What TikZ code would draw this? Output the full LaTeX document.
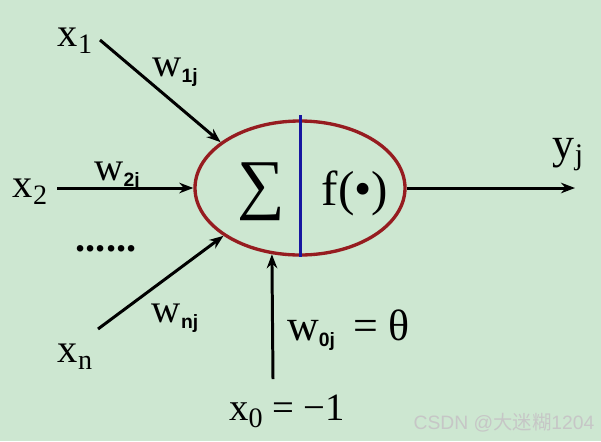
\documentclass[tikz,border=0pt]{standalone}
\usepackage{fontspec}
\setmainfont{Liberation Serif}
\setsansfont{Liberation Sans}
\newfontfamily\cjkfont{Noto Sans CJK SC}
\usetikzlibrary{shapes.geometric,arrows.meta}
\definecolor{bgmint}{RGB}{205,231,209}
\definecolor{cellred}{RGB}{150,28,32}
\definecolor{cellblue}{RGB}{22,22,160}
\newcommand{\xsub}[1]{x\raisebox{-0.4ex}{\fontsize{16}{16}\selectfont #1}}
\newcommand{\wsub}[1]{w\raisebox{-0.3ex}{\sffamily\bfseries\fontsize{11}{11}\selectfont #1}}

\begin{document}
\begin{tikzpicture}[
    lbl/.style={inner sep=0pt,font=\fontsize{23}{26}\selectfont},
    wire/.style={line width=1.7pt,-{Stealth[length=8pt,width=6pt]}}]
    \fill[bgmint] (0,0) rectangle (12.02,8.82);
    \useasboundingbox (0,0) rectangle (12.02,8.82);
    \node[ellipse,draw=cellred,line width=1.9pt,minimum width=4.2cm,minimum height=2.68cm,inner sep=0pt] (neuron) at (6.0,5.06) {};
    \draw[cellblue,line width=1.7pt] ([yshift=2.3pt]neuron.north) -- (neuron.south);
    \node[inner sep=0pt,font=\fontsize{38}{40}\selectfont] (sum) at (5.22,4.98) {∑};
    \node[inner sep=0pt,font=\fontsize{28}{32}\selectfont] (act) at (7.1,4.96) {f(•)};
    \coordinate (x1end) at (2.0,8.02);
    \coordinate (x2end) at (1.14,5.06);
    \coordinate (xnend) at (1.96,2.24);
    \coordinate (x0end) at (5.46,1.24);
    \coordinate (yend) at (11.5,5.06);
    \draw[wire] (x1end) -- (neuron.150);
    \draw[wire] (x2end) -- (neuron.west);
    \draw[wire] (xnend) -- (neuron.212);
    \draw[wire] (x0end) -- (neuron.247);
    \draw[wire] (neuron.east) -- (yend);
    \node[lbl] (x1) at (1.5,8.0) {\xsub{1}};
    \node[lbl] (x2) at (0.6,4.98) {\xsub{2}};
    \node[lbl] (xn) at (1.5,1.68) {\xsub{n}};
    \node[lbl] (dots) at (2.12,3.84) {\textbf{......}};
    \node[lbl] (w1) at (3.5,7.38) {\wsub{1j}};
    \node[lbl] (w2) at (2.34,5.3) {\wsub{2j}};
    \node[lbl] (wn) at (3.5,2.46) {\wsub{nj}};
    \node[lbl,font=\fontsize{25}{28}\selectfont] (w0) at (6.97,2.22) {\wsub{0j}\,\ = θ};
    \node[lbl,font=\fontsize{22}{26}\selectfont] (x0) at (5.74,0.6) {\xsub{0} = −1};
    \node[lbl,font=\fontsize{25}{28}\selectfont] (y) at (11.36,5.72) {y\raisebox{-0.3ex}{\fontsize{17}{17}\selectfont j}};
    \node[inner sep=0pt,text=white!55!gray,font=\fontsize{11}{12}\selectfont] (mark) at (10.08,0.36) {\sffamily CSDN @\cjkfont 大迷糊\sffamily 1204};
  \end{tikzpicture}
\end{document}
